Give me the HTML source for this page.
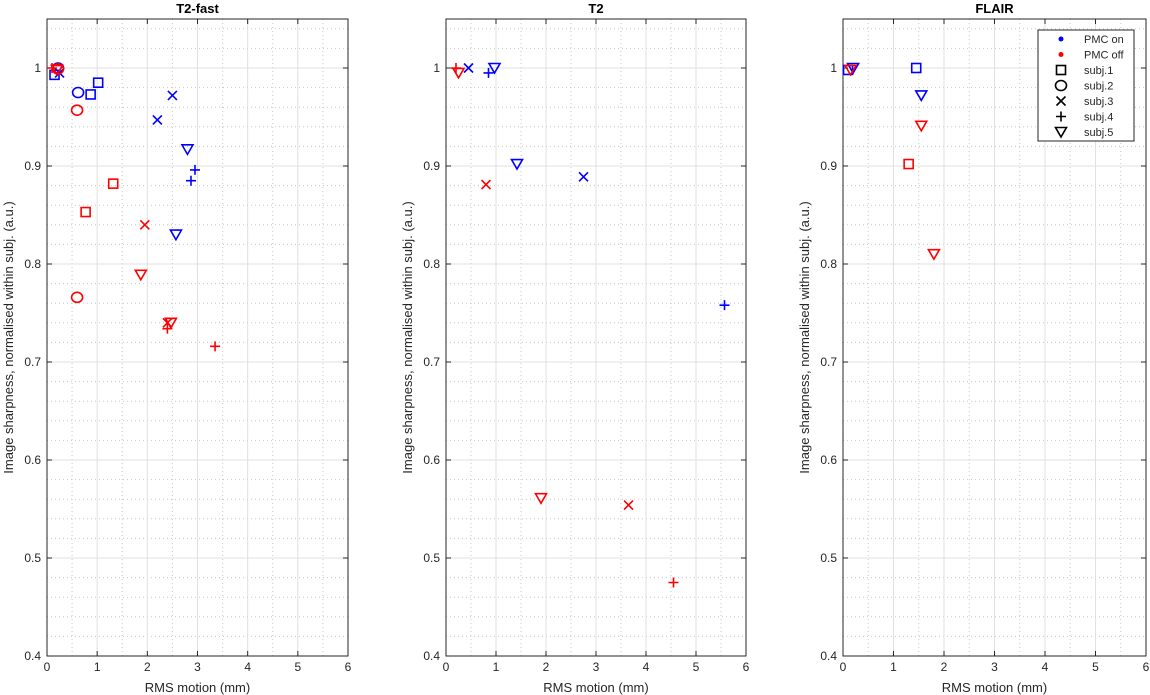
<!DOCTYPE html>
<html><head><meta charset="utf-8"><style>
body{margin:0;background:#fff;}
svg{display:block;font-family:"Liberation Sans","DejaVu Sans",sans-serif;}
</style></head><body>
<svg id="c" width="1150" height="695"></svg>
<script>
const panelTitles=["T2-fast","T2","FLAIR"];
const xTicks=[0,1,2,3,4,5,6];
const yTicks=[0.4,0.5,0.6,0.7,0.8,0.9,1];
const yTickLabels=["0.4","0.5","0.6","0.7","0.8","0.9","1"];
// points: [x, y, subject(1-5), pmcOn(1/0)]
const p1x=[0.15,0.22,0.20,0.25,0.87,1.02,0.62,2.2,2.5,2.8,2.57,2.95,2.87, 0.10,0.20,0.22,1.32,0.77,0.60,0.60,1.95,2.40,1.87,2.47,2.40,3.35];
const p1y=[0.993,1.0,0.998,0.995,0.973,0.985,0.975,0.947,0.972,0.917,0.830,0.896,0.885, 1.0,0.998,0.999,0.882,0.853,0.957,0.766,0.840,0.740,0.789,0.740,0.734,0.716];
const p1s=[1,2,5,3,1,1,2,3,3,5,5,4,4, 4,5,2,1,1,2,2,3,3,5,5,4,4];
const p1on=[1,1,1,1,1,1,1,1,1,1,1,1,1, 0,0,0,0,0,0,0,0,0,0,0,0,0];
const p2x=[0.45,0.85,0.97,1.42,2.75,5.57, 0.20,0.25,0.80,1.90,3.65,4.55];
const p2y=[1.0,0.995,1.0,0.902,0.889,0.758, 1.0,0.995,0.881,0.561,0.554,0.475];
const p2s=[3,4,5,5,3,4, 4,5,3,5,3,4];
const p2on=[1,1,1,1,1,1, 0,0,0,0,0,0];
const p3x=[0.10,0.20,1.45,1.55, 0.15,1.30,1.55,1.80];
const p3y=[0.998,1.0,1.0,0.972, 0.998,0.902,0.941,0.810];
const p3s=[1,5,1,5, 5,1,5,5];
const p3on=[1,1,1,1, 0,0,0,0];
const panels=[[p1x,p1y,p1s,p1on],[p2x,p2y,p2s,p2on],[p3x,p3y,p3s,p3on]];
const lefts=[47,446,843], rights=[348,746,1146], yTop=19, yBot=656;
const NS="http://www.w3.org/2000/svg", svgRoot=document.getElementById('c');
function el(t,a,p){const e=document.createElementNS(NS,t);for(const k in a)e.setAttribute(k,a[k]);(p||svgRoot).appendChild(e);return e;}
function marker(g,s,cx,cy,col){
  const o={fill:'none',stroke:col,'stroke-width':1.6};let e;
  if(s===1)e=el('rect',Object.assign({x:cx-4.5,y:cy-4.5,width:9,height:9},o),g);
  else if(s===2)e=el('ellipse',Object.assign({cx:cx,cy:cy,rx:5.5,ry:5},o),g);
  else if(s===3)e=el('path',Object.assign({d:`M${cx-4.5} ${cy-4.5}L${cx+4.5} ${cy+4.5}M${cx+4.5} ${cy-4.5}L${cx-4.5} ${cy+4.5}`},o),g);
  else if(s===4)e=el('path',Object.assign({d:`M${cx-5} ${cy}L${cx+5} ${cy}M${cx} ${cy-5}L${cx} ${cy+5}`},o),g);
  else e=el('path',Object.assign({d:`M${cx-5.5} ${cy-4.5}L${cx+5.5} ${cy-4.5}L${cx} ${cy+5}Z`},o),g);
  return e;
}
panels.forEach((P,pi)=>{
  const L=lefts[pi],R=rights[pi];
  const xs=v=>L+(v/6)*(R-L), ys=v=>yBot-(v-0.4)/0.65*(yBot-yTop);
  const g=el('g',{});
  
  
  for(let k=1;k<12;k+=2){const v=k*0.5;el('line',{x1:xs(v),x2:xs(v),y1:yTop,y2:yBot,stroke:'#c8c8c8','stroke-dasharray':'1,3'},g);}
  for(let k=0;k<=32;k++){const v=0.4+k*0.02;if(k%5)el('line',{x1:L,x2:R,y1:ys(v),y2:ys(v),stroke:'#c8c8c8','stroke-dasharray':'1,3'},g);}
  xTicks.forEach(v=>{el('line',{x1:xs(v),x2:xs(v),y1:yTop,y2:yBot,stroke:'#e0e0e0'},g);
    el('line',{x1:xs(v),x2:xs(v),y1:yBot,y2:yBot-5,stroke:'#262626'},g);el('line',{x1:xs(v),x2:xs(v),y1:yTop,y2:yTop+5,stroke:'#262626'},g);
    const t=el('text',{x:xs(v),y:yBot+15,'font-size':12,'text-anchor':'middle',fill:'#262626'},g);t.textContent=v;
    });
  yTicks.forEach((v,i)=>{el('line',{x1:L,x2:R,y1:ys(v),y2:ys(v),stroke:'#e0e0e0'},g);
    el('line',{x1:L,x2:L+5,y1:ys(v),y2:ys(v),stroke:'#262626'},g);el('line',{x1:R,x2:R-5,y1:ys(v),y2:ys(v),stroke:'#262626'},g);
    const t=el('text',{x:L-6,y:ys(v)+4,'font-size':12,'text-anchor':'end',fill:'#262626'},g);t.textContent=yTickLabels[i];
    });
  el('rect',{x:L,y:yTop,width:R-L,height:yBot-yTop,fill:'none',stroke:'#262626'},g);
  const tt=el('text',{x:(L+R)/2,y:13,'font-size':13,'font-weight':'bold','text-anchor':'middle'},g);tt.textContent=panelTitles[pi];
  
  const xl=el('text',{x:(L+R)/2,y:692,'font-size':13,'text-anchor':'middle',fill:'#262626'},g);xl.textContent='RMS motion (mm)';
  
  const yx=L-34,yy=(yTop+yBot)/2;
  const yl=el('text',{x:yx,y:yy,'font-size':13,'text-anchor':'middle',fill:'#262626',transform:`rotate(-90 ${yx} ${yy})`},g);
  yl.textContent='Image sharpness, normalised within subj. (a.u.)';
  
  const X=P[0],Y=P[1],S=P[2],ON=P[3];
  X.forEach((x,i)=>{const m=marker(g,S[i],xs(x),ys(Y[i]),ON[i]?'#0000ff':'#ff0000');
    });
});
const lg=el('g',{});


el('rect',{x:1038,y:30,width:96,height:111,fill:'#fff',stroke:'#262626'},lg);
const legendLabels=["PMC on","PMC off","subj.1","subj.2","subj.3","subj.4","subj.5"];
legendLabels.forEach((t,i)=>{const y=39+i*15.5;
  if(i<2)el('circle',{cx:1061,cy:y,r:2.5,fill:i?'#ff0000':'#0000ff'},lg);else marker(lg,i-1,1061,y,'#000');
  const tx=el('text',{x:1084,y:y+4,'font-size':11,fill:'#262626'},lg);tx.textContent=t;
  });
</script>
</body></html>
